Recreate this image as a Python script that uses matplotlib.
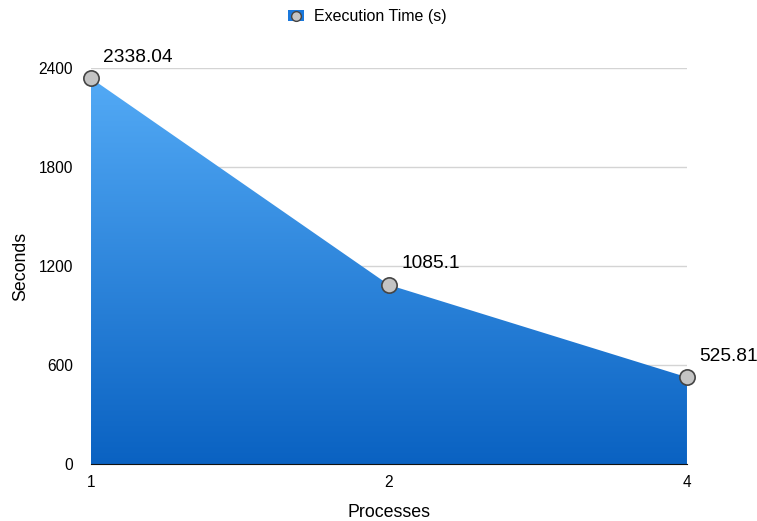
import numpy as np
import matplotlib.pyplot as plt
from matplotlib.colors import LinearSegmentedColormap
from matplotlib.patches import Polygon, Patch
from matplotlib.lines import Line2D

processes = ["1", "2", "4"]
exec_time = [2338.04, 1085.1, 525.81]
y_ticks = [0, 600, 1200, 1800, 2400]

plt.rcParams['font.family'] = ['Liberation Sans', 'DejaVu Sans']

fig = plt.figure(figsize=(7.57, 5.21), dpi=100)
ax = fig.add_axes([0.1202, 0.1094, 0.7873, 0.7601])

x = np.arange(len(processes))
ax.set_xlim(x[0], x[-1])
ax.set_ylim(0, 2400)

# gradient fill under the line
cmap = LinearSegmentedColormap.from_list("blu", ["#0a62c2", "#55acf7"])
grad = np.linspace(0, 1, 256).reshape(-1, 1)
img = ax.imshow(grad, extent=[x[0], x[-1], 0, 2400], origin="lower",
                aspect="auto", cmap=cmap, zorder=2)
verts = [(x[0], 0)] + list(zip(x, exec_time)) + [(x[-1], 0)]
clip = Polygon(verts, closed=True, transform=ax.transData, facecolor="none", edgecolor="none")
ax.add_patch(clip)
img.set_clip_path(clip)

ax.plot(x, exec_time, linestyle="none", marker="o", markersize=11,
        markerfacecolor="#c4c4c4", markeredgecolor="#444444", markeredgewidth=1.2,
        zorder=4, clip_on=False)

for xi, v in zip(x, exec_time):
    ax.annotate(f"{v:g}", (xi, v), xytext=(9, 9), textcoords="offset points",
                fontsize=13.8, ha="left", va="bottom")

ax.set_yticks(y_ticks)
ax.set_xticks(x)
ax.set_xticklabels(processes)
ax.yaxis.grid(True, color="#d4d4d4", linewidth=1)
ax.set_axisbelow(True)
ax.tick_params(axis="both", length=0, labelsize=11.2)
ax.tick_params(axis="y", pad=13)
ax.tick_params(axis="x", pad=8)
for s in ["top", "right", "left"]:
    ax.spines[s].set_visible(False)
ax.spines["bottom"].set_color("#111111")
ax.spines["bottom"].set_zorder(5)

ax.set_xlabel("Processes", fontsize=12.8, labelpad=10)
ax.set_ylabel("Seconds", fontsize=12.8, labelpad=7)

handle = (Patch(facecolor="#1a78dc", edgecolor="none"),
          Line2D([], [], linestyle="none", marker="o", markersize=7,
                 markerfacecolor="#c4c4c4", markeredgecolor="#444444"))
fig.legend([handle], ["Execution Time (s)"], loc="upper center",
           bbox_to_anchor=(0.485, 1.01), frameon=False, fontsize=11.5,
           handlelength=1.0, handletextpad=0.6)

fig.savefig("out.png", dpi=100)
